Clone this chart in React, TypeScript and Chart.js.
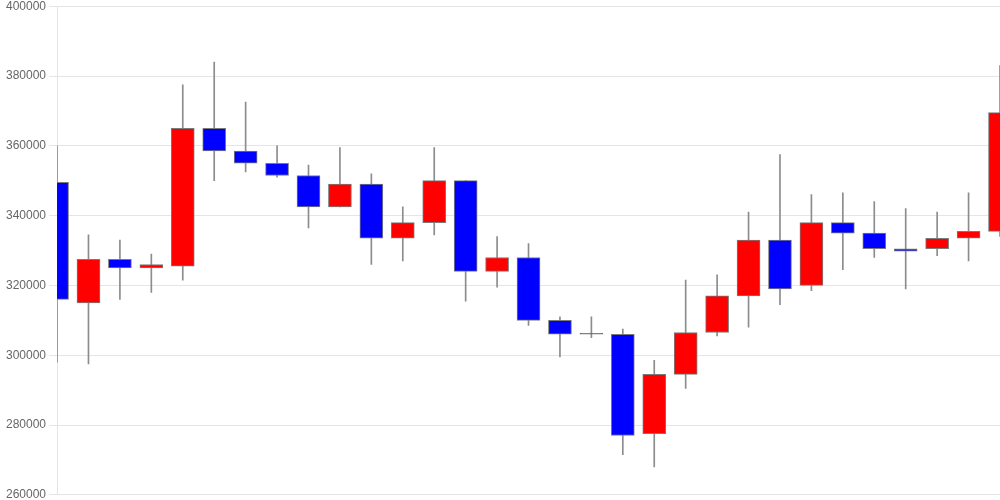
import React, { useEffect, useRef } from "react";
import { Chart, registerables } from "chart.js";

Chart.register(...registerables);

const labels: string[] = Array.from({ length: 31 }, (_, i) => String(i + 1));

const openValues: number[] = [
  349500, 315000, 327500, 325000, 325500, 365000, 358500, 355000, 351500, 342500,
  349000, 333500, 338000, 350000, 324000, 328000, 310000, 306000, 306000, 277500,
  294500, 306500, 317000, 333000, 320000, 338000, 335000, 330500, 330500, 333500,
  335500,
];
const closeValues: number[] = [
  316000, 327500, 325000, 326000, 365000, 358500, 355000, 351500, 342500, 349000,
  333500, 338000, 350000, 324000, 328000, 310000, 306000, 306300, 277000, 294500,
  306500, 317000, 333000, 319000, 338000, 335000, 330500, 329800, 333500, 335500,
  369500,
];
const highValues: number[] = [
  360000, 334500, 333000, 329000, 377500, 384000, 372500, 360000, 354500, 359500,
  352000, 342500, 359500, 350000, 334000, 332000, 311000, 311000, 307500, 298500,
  321500, 323000, 341000, 357500, 346000, 346500, 344000, 342000, 341000, 346500,
  383000,
];
const lowValues: number[] = [
  298000, 297500, 316000, 318000, 321500, 350000, 352500, 351000, 336500, 342500,
  326000, 327000, 334500, 315500, 319500, 308500, 299500, 305000, 271500, 268000,
  290500, 305500, 308000, 314500, 318500, 324500, 328000, 319000, 328500, 327000,
  334000,
];
const yTicks: number[] = [260000, 280000, 300000, 320000, 340000, 360000, 380000, 400000];

export default function App() {
  const canvasRef = useRef<HTMLCanvasElement | null>(null);

  useEffect(() => {
    document.body.style.margin = "0";
    document.body.style.overflow = "hidden";
    const canvas = canvasRef.current;
    if (!canvas) return;
    const bodies = openValues.map((o, i) => [o, closeValues[i]]);
    const wicks = lowValues.map((l, i) => [l, highValues[i]]);
    const colors = openValues.map((o, i) => (closeValues[i] >= o ? "#ff0000" : "#0000ff"));
    const chart = new Chart(canvas, {
      type: "bar",
      data: {
        labels,
        datasets: [
          {
            label: "wick",
            data: wicks as any,
            backgroundColor: "#8c8c8c",
            borderWidth: 0,
            barThickness: 1,
            grouped: false,
            order: 2,
            clip: 0 as any,
          },
          {
            label: "body",
            data: bodies as any,
            backgroundColor: colors,
            borderColor: "#7a7a7a",
            borderWidth: 1,
            borderSkipped: false,
            barThickness: 23,
            grouped: false,
            order: 1,
            clip: 0 as any,
          },
        ],
      },
      options: {
        animation: false,
        responsive: true,
        maintainAspectRatio: false,
        layout: { padding: { left: 3, right: 0, top: 0, bottom: 0 } },
        plugins: { legend: { display: false }, tooltip: { enabled: false } },
        scales: {
          x: {
            display: false,
            offset: false,
          },
          y: {
            min: 260000,
            max: 400000,
            afterBuildTicks: (axis: any) => {
              axis.ticks = yTicks.map((v) => ({ value: v }));
            },
            ticks: {
              color: "#666",
              font: { size: 12, family: "'Liberation Sans', Arial, sans-serif" },
              callback: (v: any) => String(v),
            },
            grid: { color: "rgba(0,0,0,0.1)" },
          },
        },
      },
    });
    return () => chart.destroy();
  }, []);

  return (
    <div style={{ position: "absolute", left: 0, top: -4, width: 1000, height: 509 }}>
      <canvas ref={canvasRef} />
    </div>
  );
}
